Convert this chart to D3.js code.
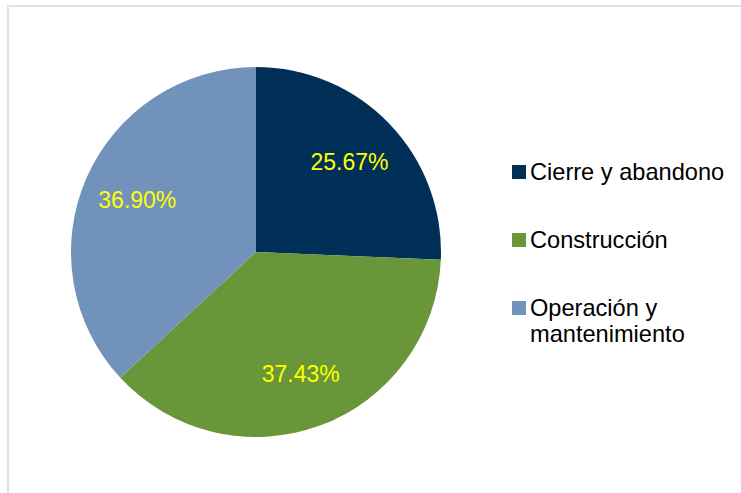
<!DOCTYPE html>
<html>
<head>
<meta charset="utf-8">
<script src="https://cdn.jsdelivr.net/npm/d3@7"></script>
<style>
  body { margin: 0; background: #fff; }
  svg { display: block; font-family: "Liberation Sans", Arial, sans-serif; }
</style>
</head>
<body>
<div id="chart"></div>
<script>
var categories = ["Cierre y abandono", "Construcción", "Operación y mantenimiento"];
var values = [25.67, 37.43, 36.90];
var labels = ["25.67%", "37.43%", "36.90%"];
var legendLines = [["Cierre y abandono"], ["Construcción"], ["Operación y", "mantenimiento"]];

var width = 741, height = 493;
var cx = 256, cy = 252, radius = 185;

var color = d3.scaleOrdinal()
    .domain(categories)
    .range(["#003057", "#6a963a", "#7192bb"]);

var svg = d3.select("#chart").append("svg")
    .attr("width", width)
    .attr("height", height);

// frame
svg.append("rect")
    .attr("x", 8).attr("y", 6)
    .attr("width", width).attr("height", height)
    .attr("fill", "none")
    .attr("stroke", "#e2e2e2")
    .attr("stroke-width", 2);

var data = categories.map(function (c, i) { return {cat: c, value: values[i], label: labels[i]}; });

var pie = d3.pie().sort(null).value(function (d) { return d.value; });
var arc = d3.arc().innerRadius(0).outerRadius(radius);
var labelArc = d3.arc().innerRadius(radius * 0.7).outerRadius(radius * 0.7);

var g = svg.append("g").attr("transform", "translate(" + cx + "," + cy + ")");

var arcs = pie(data);

g.selectAll("path.slice")
    .data(arcs)
  .enter().append("path")
    .attr("class", "slice")
    .attr("d", arc)
    .attr("fill", function (d) { return color(d.data.cat); });

g.selectAll("text.pct")
    .data(arcs)
  .enter().append("text")
    .attr("class", "pct")
    .attr("transform", function (d) { return "translate(" + labelArc.centroid(d) + ")"; })
    .attr("text-anchor", "middle")
    .attr("dy", "0.35em")
    .style("font-size", "23px")
    .style("fill", "#ffff00")
    .text(function (d) { return d.data.label; });

// legend
var legendY = [172, 240, 308];
var legend = svg.selectAll("g.legend")
    .data(categories)
  .enter().append("g")
    .attr("class", "legend")
    .attr("transform", function (d, i) { return "translate(512," + legendY[i] + ")"; });

legend.append("rect")
    .attr("x", 0).attr("y", -7)
    .attr("width", 14).attr("height", 14)
    .attr("fill", function (d) { return color(d); });

legend.append("text")
    .attr("x", 18)
    .attr("y", 0)
    .style("font-size", "23.6px")
    .style("fill", "#000")
    .selectAll("tspan")
    .data(function (d, i) { return legendLines[i]; })
  .enter().append("tspan")
    .attr("x", 18)
    .attr("dy", function (d, j) { return j === 0 ? "0.35em" : "1.1em"; })
    .text(function (d) { return d; });
</script>
</body>
</html>
